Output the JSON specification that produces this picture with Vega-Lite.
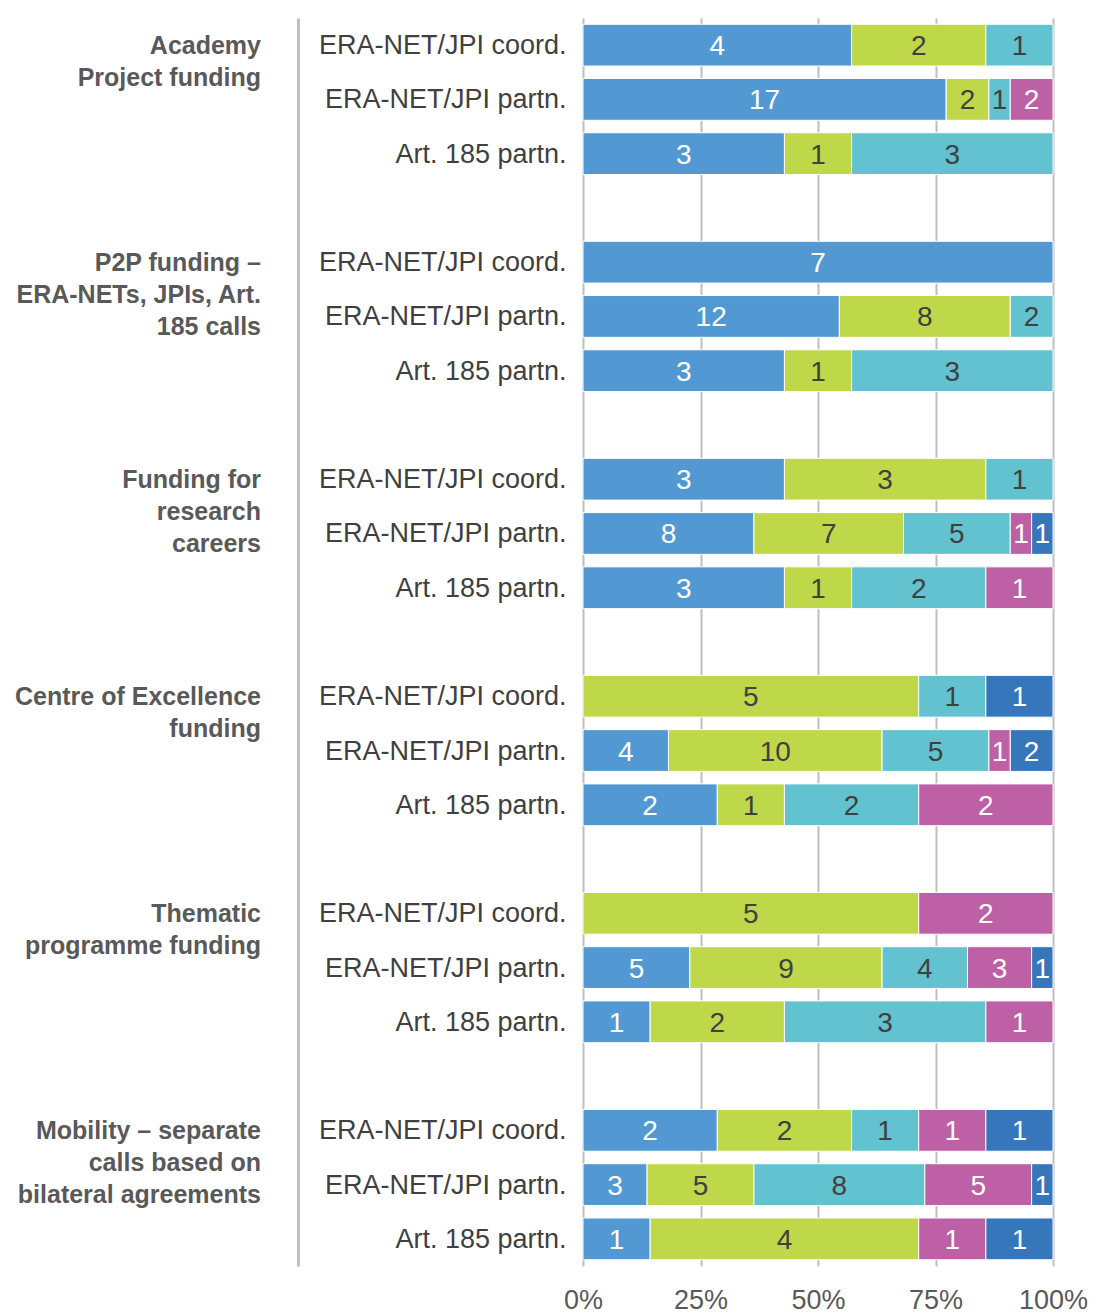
{
  "$schema": "https://vega.github.io/schema/vega-lite/v6.json",
  "padding": {"left": 5, "top": 18, "right": 5, "bottom": 5},
  "bounds": "flush",
  "spacing": 322,
  "datasets": {
    "bars": [
      {"slot": "1|ERA-NET/JPI coord.", "cat": "c1", "n": 4},
      {"slot": "1|ERA-NET/JPI coord.", "cat": "c2", "n": 2},
      {"slot": "1|ERA-NET/JPI coord.", "cat": "c3", "n": 1},
      {"slot": "1|ERA-NET/JPI partn.", "cat": "c1", "n": 17},
      {"slot": "1|ERA-NET/JPI partn.", "cat": "c2", "n": 2},
      {"slot": "1|ERA-NET/JPI partn.", "cat": "c3", "n": 1},
      {"slot": "1|ERA-NET/JPI partn.", "cat": "c4", "n": 2},
      {"slot": "1|Art. 185 partn.", "cat": "c1", "n": 3},
      {"slot": "1|Art. 185 partn.", "cat": "c2", "n": 1},
      {"slot": "1|Art. 185 partn.", "cat": "c3", "n": 3},
      {"slot": "2|ERA-NET/JPI coord.", "cat": "c1", "n": 7},
      {"slot": "2|ERA-NET/JPI partn.", "cat": "c1", "n": 12},
      {"slot": "2|ERA-NET/JPI partn.", "cat": "c2", "n": 8},
      {"slot": "2|ERA-NET/JPI partn.", "cat": "c3", "n": 2},
      {"slot": "2|Art. 185 partn.", "cat": "c1", "n": 3},
      {"slot": "2|Art. 185 partn.", "cat": "c2", "n": 1},
      {"slot": "2|Art. 185 partn.", "cat": "c3", "n": 3},
      {"slot": "3|ERA-NET/JPI coord.", "cat": "c1", "n": 3},
      {"slot": "3|ERA-NET/JPI coord.", "cat": "c2", "n": 3},
      {"slot": "3|ERA-NET/JPI coord.", "cat": "c3", "n": 1},
      {"slot": "3|ERA-NET/JPI partn.", "cat": "c1", "n": 8},
      {"slot": "3|ERA-NET/JPI partn.", "cat": "c2", "n": 7},
      {"slot": "3|ERA-NET/JPI partn.", "cat": "c3", "n": 5},
      {"slot": "3|ERA-NET/JPI partn.", "cat": "c4", "n": 1},
      {"slot": "3|ERA-NET/JPI partn.", "cat": "c5", "n": 1},
      {"slot": "3|Art. 185 partn.", "cat": "c1", "n": 3},
      {"slot": "3|Art. 185 partn.", "cat": "c2", "n": 1},
      {"slot": "3|Art. 185 partn.", "cat": "c3", "n": 2},
      {"slot": "3|Art. 185 partn.", "cat": "c4", "n": 1},
      {"slot": "4|ERA-NET/JPI coord.", "cat": "c2", "n": 5},
      {"slot": "4|ERA-NET/JPI coord.", "cat": "c3", "n": 1},
      {"slot": "4|ERA-NET/JPI coord.", "cat": "c5", "n": 1},
      {"slot": "4|ERA-NET/JPI partn.", "cat": "c1", "n": 4},
      {"slot": "4|ERA-NET/JPI partn.", "cat": "c2", "n": 10},
      {"slot": "4|ERA-NET/JPI partn.", "cat": "c3", "n": 5},
      {"slot": "4|ERA-NET/JPI partn.", "cat": "c4", "n": 1},
      {"slot": "4|ERA-NET/JPI partn.", "cat": "c5", "n": 2},
      {"slot": "4|Art. 185 partn.", "cat": "c1", "n": 2},
      {"slot": "4|Art. 185 partn.", "cat": "c2", "n": 1},
      {"slot": "4|Art. 185 partn.", "cat": "c3", "n": 2},
      {"slot": "4|Art. 185 partn.", "cat": "c4", "n": 2},
      {"slot": "5|ERA-NET/JPI coord.", "cat": "c2", "n": 5},
      {"slot": "5|ERA-NET/JPI coord.", "cat": "c4", "n": 2},
      {"slot": "5|ERA-NET/JPI partn.", "cat": "c1", "n": 5},
      {"slot": "5|ERA-NET/JPI partn.", "cat": "c2", "n": 9},
      {"slot": "5|ERA-NET/JPI partn.", "cat": "c3", "n": 4},
      {"slot": "5|ERA-NET/JPI partn.", "cat": "c4", "n": 3},
      {"slot": "5|ERA-NET/JPI partn.", "cat": "c5", "n": 1},
      {"slot": "5|Art. 185 partn.", "cat": "c1", "n": 1},
      {"slot": "5|Art. 185 partn.", "cat": "c2", "n": 2},
      {"slot": "5|Art. 185 partn.", "cat": "c3", "n": 3},
      {"slot": "5|Art. 185 partn.", "cat": "c4", "n": 1},
      {"slot": "6|ERA-NET/JPI coord.", "cat": "c1", "n": 2},
      {"slot": "6|ERA-NET/JPI coord.", "cat": "c2", "n": 2},
      {"slot": "6|ERA-NET/JPI coord.", "cat": "c3", "n": 1},
      {"slot": "6|ERA-NET/JPI coord.", "cat": "c4", "n": 1},
      {"slot": "6|ERA-NET/JPI coord.", "cat": "c5", "n": 1},
      {"slot": "6|ERA-NET/JPI partn.", "cat": "c1", "n": 3},
      {"slot": "6|ERA-NET/JPI partn.", "cat": "c2", "n": 5},
      {"slot": "6|ERA-NET/JPI partn.", "cat": "c3", "n": 8},
      {"slot": "6|ERA-NET/JPI partn.", "cat": "c4", "n": 5},
      {"slot": "6|ERA-NET/JPI partn.", "cat": "c5", "n": 1},
      {"slot": "6|Art. 185 partn.", "cat": "c1", "n": 1},
      {"slot": "6|Art. 185 partn.", "cat": "c2", "n": 4},
      {"slot": "6|Art. 185 partn.", "cat": "c4", "n": 1},
      {"slot": "6|Art. 185 partn.", "cat": "c5", "n": 1}
    ],
    "groups": [
      {"slot": "1|ERA-NET/JPI coord.", "label": "Academy\nProject funding"},
      {"slot": "2|ERA-NET/JPI coord.", "label": "P2P funding –\nERA-NETs, JPIs, Art.\n185 calls"},
      {"slot": "3|ERA-NET/JPI coord.", "label": "Funding for\nresearch\ncareers"},
      {"slot": "4|ERA-NET/JPI coord.", "label": "Centre of Excellence\nfunding"},
      {"slot": "5|ERA-NET/JPI coord.", "label": "Thematic\nprogramme funding"},
      {"slot": "6|ERA-NET/JPI coord.", "label": "Mobility –  separate\ncalls based on\nbilateral agreements"}
    ]
  },
  "hconcat": [
    {
      "width": 256,
      "height": 1248,
      "data": {"name": "groups"},
      "mark": {"type": "text", "align": "right", "baseline": "middle", "font": "Liberation Sans", "fontSize": 25, "fontWeight": "bold", "color": "#595959", "lineHeight": 32, "lineBreak": "\n", "dy": 1},
      "encoding": {
        "x": {"datum": 1, "type": "quantitative", "scale": {"domain": [0, 1]}, "axis": null},
        "y": {
          "field": "slot", "type": "nominal",
          "scale": {"domain": ["1|ERA-NET/JPI coord.", "1|ERA-NET/JPI partn.", "1|Art. 185 partn.", "1|", "2|ERA-NET/JPI coord.", "2|ERA-NET/JPI partn.", "2|Art. 185 partn.", "2|", "3|ERA-NET/JPI coord.", "3|ERA-NET/JPI partn.", "3|Art. 185 partn.", "3|", "4|ERA-NET/JPI coord.", "4|ERA-NET/JPI partn.", "4|Art. 185 partn.", "4|", "5|ERA-NET/JPI coord.", "5|ERA-NET/JPI partn.", "5|Art. 185 partn.", "5|", "6|ERA-NET/JPI coord.", "6|ERA-NET/JPI partn.", "6|Art. 185 partn."], "paddingInner": 0.23, "paddingOuter": 0.115},
          "axis": {"orient": "right", "offset": 37, "labels": false, "ticks": false, "grid": false, "domain": true, "domainColor": "#BFBFBF", "domainWidth": 3, "title": null}
        },
        "text": {"field": "label"}
      }
    },
    {
      "width": 470,
      "height": 1248,
      "data": {"name": "bars"},
      "encoding": {
        "y": {
          "field": "slot", "type": "nominal",
          "scale": {"domain": ["1|ERA-NET/JPI coord.", "1|ERA-NET/JPI partn.", "1|Art. 185 partn.", "1|", "2|ERA-NET/JPI coord.", "2|ERA-NET/JPI partn.", "2|Art. 185 partn.", "2|", "3|ERA-NET/JPI coord.", "3|ERA-NET/JPI partn.", "3|Art. 185 partn.", "3|", "4|ERA-NET/JPI coord.", "4|ERA-NET/JPI partn.", "4|Art. 185 partn.", "4|", "5|ERA-NET/JPI coord.", "5|ERA-NET/JPI partn.", "5|Art. 185 partn.", "5|", "6|ERA-NET/JPI coord.", "6|ERA-NET/JPI partn.", "6|Art. 185 partn."], "paddingInner": 0.23, "paddingOuter": 0.115},
          "axis": {"orient": "left", "labelExpr": "split(datum.label, '|')[1]", "labelFont": "Liberation Sans", "labelFontSize": 27, "labelColor": "#404040", "labelPadding": 17, "labelOffset": 1, "labelLimit": 500, "ticks": false, "domain": false, "grid": false, "title": null}
        }
      },
      "layer": [
        {
          "mark": {"type": "bar", "stroke": "#FFFFFF", "strokeWidth": 1},
          "encoding": {
            "x": {
              "field": "n", "type": "quantitative", "stack": "normalize",
              "scale": {"domain": [0, 1]},
              "axis": {"values": [0, 0.25, 0.5, 0.75, 1], "format": ".0%", "grid": true, "gridColor": "#BFBFBF", "gridWidth": 2, "ticks": false, "domain": false, "labelFont": "Liberation Sans", "labelFontSize": 27, "labelColor": "#595959", "labelPadding": 21, "labelFlush": false, "labelOverlap": false, "title": null}
            },
            "color": {
              "field": "cat", "type": "nominal",
              "scale": {"domain": ["c1", "c2", "c3", "c4", "c5"], "range": ["#5299D3", "#BFD849", "#63C2D0", "#BD60A6", "#3676BB"]},
              "legend": null
            },
            "order": {"field": "cat"}
          }
        },
        {
          "mark": {"type": "text", "font": "Liberation Sans", "fontSize": 28, "baseline": "middle", "align": "center", "dy": 2},
          "encoding": {
            "x": {"field": "n", "type": "quantitative", "stack": "normalize", "bandPosition": 0.5},
            "detail": {"field": "cat"},
            "order": {"field": "cat"},
            "text": {"field": "n", "type": "quantitative"},
            "color": {"condition": {"test": "datum.cat === 'c2' || datum.cat === 'c3'", "value": "#404040"}, "value": "#FFFFFF"}
          }
        }
      ]
    }
  ],
  "config": {"view": {"stroke": null}}
}
